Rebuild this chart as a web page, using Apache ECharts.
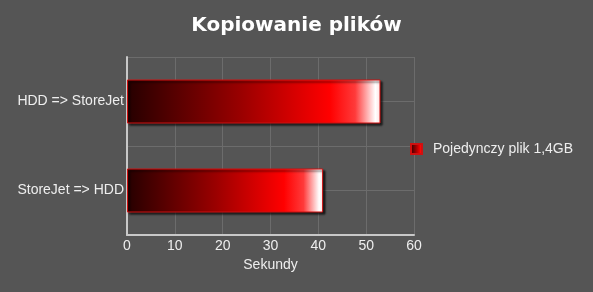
<!DOCTYPE html>
<html><head><meta charset="utf-8">
<script src="https://cdn.jsdelivr.net/npm/echarts@6/dist/echarts.min.js"></script>
<style>html,body{margin:0;padding:0;background:#555555;}#c{width:593px;height:292px;}</style>
</head><body><div id="c"></div>
<script>
var titleText = 'Kopiowanie plików';
var categories = ['StoreJet => HDD', 'HDD => StoreJet'];
var seriesName = 'Pojedynczy plik 1,4GB';
var values = [41, 53];
var axisName = 'Sekundy';

var chart = echarts.init(document.getElementById('c'));
var grad = new echarts.graphic.LinearGradient(0, 0, 1, 0, [
  {offset: 0, color: '#260000'},
  {offset: 0.45, color: '#9a0000'},
  {offset: 0.8, color: '#ff0000'},
  {offset: 0.9, color: '#ff3a3a'},
  {offset: 0.98, color: '#ffffff'},
  {offset: 1, color: '#ffe0e0'}
]);
chart.setOption({
  backgroundColor: '#555555',
  animation: false,
  title: {
    text: titleText, left: 'center', top: 11,
    textStyle: {color: '#ffffff', fontFamily: 'DejaVu Sans', fontWeight: 900, fontSize: 20}
  },
  legend: {
    data: [seriesName], left: 405, top: 137, orient: 'vertical',
    itemWidth: 11, itemHeight: 10, itemGap: 10,
    textStyle: {color: '#eeeeee', fontFamily: 'Liberation Sans', fontSize: 14, padding: [0,0,0,6]},
    icon: 'rect'
  },
  grid: {left: 127, right: 179, top: 57, bottom: 57, containLabel: false},
  xAxis: {
    type: 'value', min: 0, max: 60, interval: 10,
    name: axisName, nameLocation: 'middle', nameGap: 21,
    nameTextStyle: {color: '#eeeeee', fontFamily: 'Liberation Sans', fontSize: 14},
    axisLine: {show: true, lineStyle: {color: '#c8c8c8', width: 2}},
    axisTick: {show: false},
    axisLabel: {color: '#eeeeee', fontFamily: 'Liberation Sans', fontSize: 14, margin: 4},
    splitLine: {show: true, lineStyle: {color: '#6c6c6c', width: 1}}
  },
  yAxis: [{
    type: 'category', data: categories,
    axisLine: {show: true, lineStyle: {color: '#c8c8c8', width: 2}},
    axisTick: {show: false},
    axisLabel: {color: '#eeeeee', fontFamily: 'Liberation Sans', fontSize: 14, margin: 3},
    splitLine: {show: false}
  }, {
    type: 'value', min: 0, max: 4, interval: 1, position: 'left',
    axisLine: {show: false}, axisTick: {show: false}, axisLabel: {show: false},
    splitLine: {show: true, lineStyle: {color: '#6c6c6c', width: 1}}
  }],
  series: [{
    name: seriesName, type: 'bar', data: values, barWidth: 44, yAxisIndex: 0,
    itemStyle: {
      color: grad, borderColor: '#d01010', borderWidth: 1,
      shadowColor: 'rgba(0,0,0,0.7)', shadowBlur: 2, shadowOffsetX: 2, shadowOffsetY: 2
    }
  }]
});
</script></body></html>
